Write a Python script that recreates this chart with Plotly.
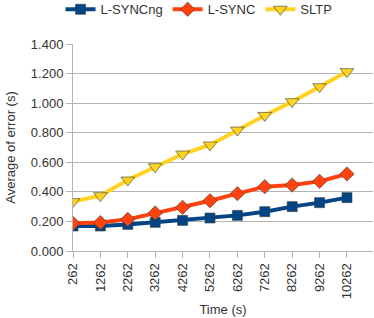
import plotly.graph_objects as go

times = ["262", "1262", "2262", "3262", "4262", "5262", "6262", "7262", "8262", "9262", "10262"]
l_syncng = [0.169, 0.169, 0.180, 0.194, 0.207, 0.223, 0.241, 0.266, 0.300, 0.327, 0.361]
l_sync = [0.187, 0.192, 0.214, 0.257, 0.295, 0.340, 0.388, 0.435, 0.446, 0.471, 0.521]
sltp = [0.334, 0.374, 0.480, 0.570, 0.656, 0.717, 0.818, 0.917, 1.010, 1.111, 1.213]
y_ticks = [0.0, 0.2, 0.4, 0.6, 0.8, 1.0, 1.2, 1.4]

xs = list(range(len(times)))
font = "Liberation Sans, Arial, sans-serif"

series = [
    ("L-SYNCng", l_syncng, "#004586", "square", 10),
    ("L-SYNC", l_sync, "#ff420e", "diamond", 11),
    ("SLTP", sltp, "#ffd320", "triangle-down", 12),
]

fig = go.Figure()
for name, vals, color, sym, size in series:
    fig.add_trace(go.Scatter(
        x=xs, y=vals, name=name, mode="lines+markers",
        line=dict(color=color, width=4),
        marker=dict(symbol=sym, size=size, color=color,
                    line=dict(color="rgba(60,60,60,0.6)", width=1)),
    ))

fig.update_layout(
    width=374, height=318,
    margin=dict(l=73, r=1, t=44, b=67, autoexpand=False),
    paper_bgcolor="white", plot_bgcolor="white",
    font=dict(family=font, size=13, color="#333333"),
    legend=dict(orientation="h", x=0.42, xanchor="center",
                y=1.24, yanchor="top", yref="paper",
                font=dict(size=13), itemwidth=30, tracegroupgap=0),
    showlegend=True,
)
fig.update_xaxes(
    range=[0, 10.95], tickvals=xs, ticktext=times, tickangle=-90,
    showgrid=False, showline=True, linecolor="#b3b3b3", linewidth=1,
    ticks="outside", ticklen=6, tickcolor="#b3b3b3",
    title=dict(text="Time (s)", font=dict(size=13), standoff=6),
    zeroline=False,
)
fig.update_yaxes(
    range=[0, 1.4], tickvals=y_ticks, ticktext=[f"{v:.3f}" for v in y_ticks],
    showgrid=True, gridcolor="#b3b3b3", gridwidth=1,
    showline=True, linecolor="#b3b3b3",
    ticks="outside", ticklen=6, tickcolor="#b3b3b3",
    title=dict(text="Average of error (s)", font=dict(size=13), standoff=12),
    zeroline=False,
)
fig.write_html("out.html")
